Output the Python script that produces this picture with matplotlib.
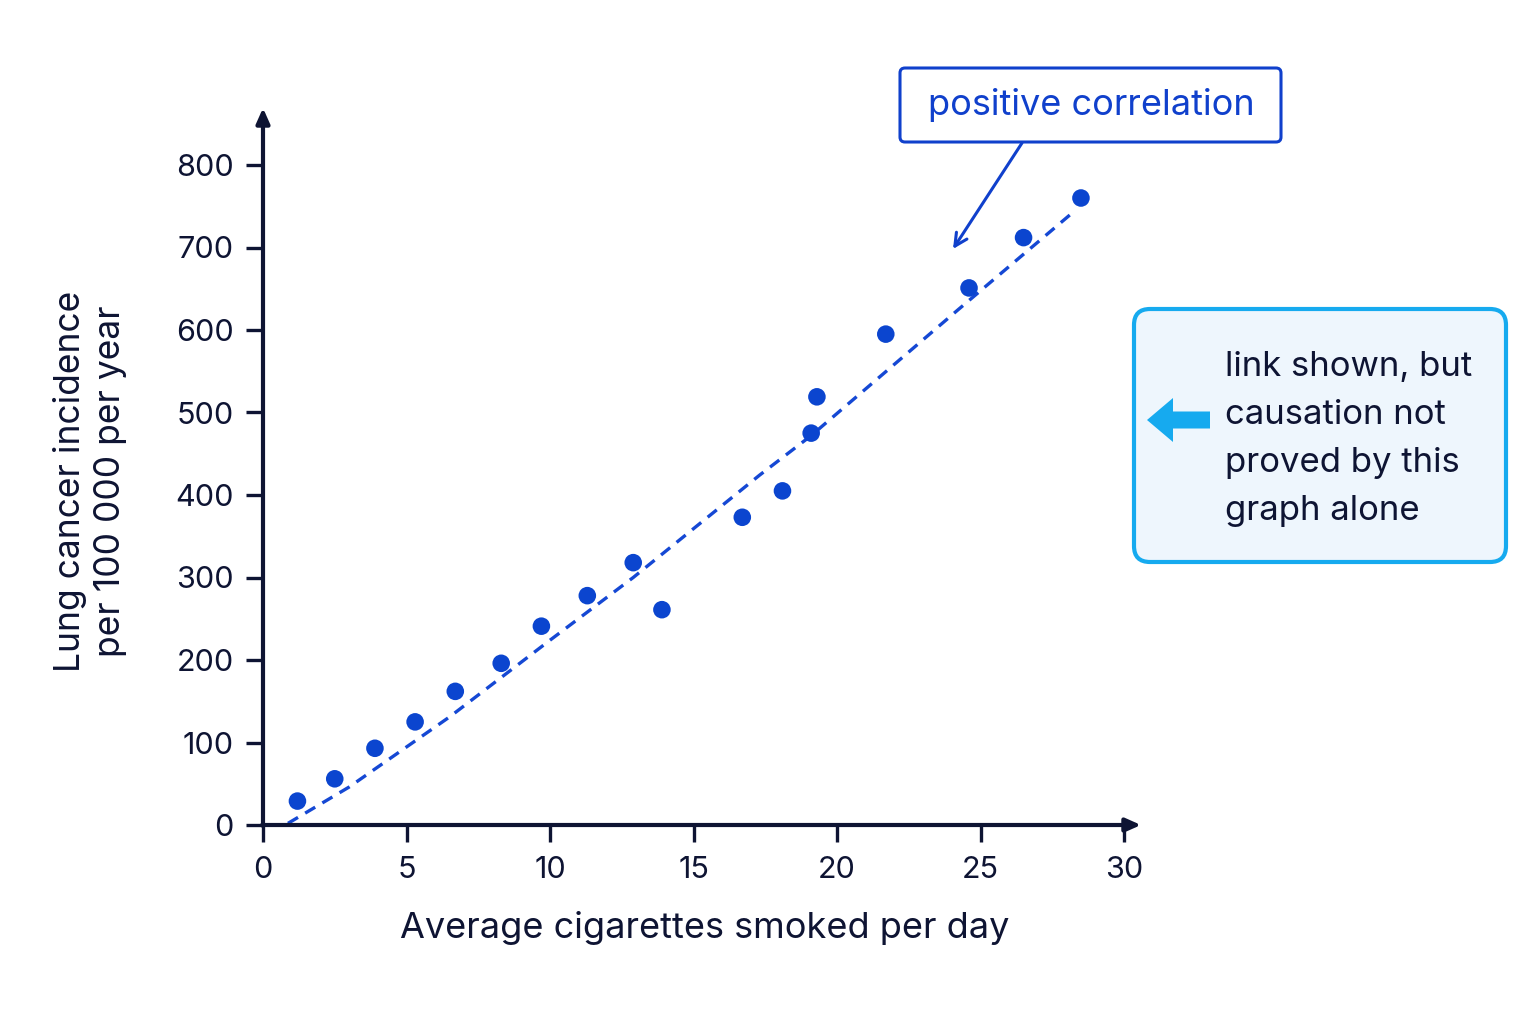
import matplotlib
matplotlib.use("Agg")
import matplotlib.pyplot as plt
from matplotlib.patches import FancyBboxPatch, FancyArrow

plt.rcParams['font.family'] = ['Inter', 'DejaVu Sans']

# ---- data ----
cigs = [1.2, 2.5, 3.9, 5.3, 6.7, 8.3, 9.7, 11.3, 12.9, 13.9, 16.7, 18.1, 19.1, 19.3, 21.7, 24.6, 26.5, 28.5]
incidence = [29, 56, 93, 125, 162, 196, 241, 278, 318, 261, 373, 405, 475, 519, 595, 651, 712, 760]
trend_x = [0.87, 3.0, 6.5, 10.0, 12.9, 17.3, 19.1, 24.2, 28.2]
trend_y = [2, 46, 131, 224, 300, 424, 472, 624, 742]
xticks = [0, 5, 10, 15, 20, 25, 30]
yticks = [0, 100, 200, 300, 400, 500, 600, 700, 800]

W, H = 1536, 1024
navy = '#0e1433'
blue = '#0b45cf'
cyan = '#16aaef'

fig = plt.figure(figsize=(W / 100, H / 100), dpi=100)
fig.patch.set_facecolor('white')

ax = fig.add_axes([263 / W, 1 - 825 / H, (1124 - 263) / W, (825 - 165) / H])
ax.set_xlim(0, 30)
ax.set_ylim(0, 800)
ax.patch.set_alpha(0)
for s in ax.spines.values():
    s.set_visible(False)
ax.set_xticks(xticks)
ax.set_yticks(yticks)
ax.tick_params(axis='both', colors=navy, labelcolor=navy, length=12, width=2.4, labelsize=22)
ax.tick_params(axis='x', pad=10)
ax.tick_params(axis='y', pad=9)

ax.plot(trend_x, trend_y, color='#1548d4', lw=2.4, dashes=(3.5, 2.5), zorder=2)
ax.scatter(cigs, incidence, s=160, color=blue, zorder=3, edgecolors='none')

ax.set_xlabel('Average cigarettes smoked per day', fontsize=26, color=navy, va='center')
ax.xaxis.set_label_coords((705 - 263) / 861, (825 - 928) / 660)
ax.set_ylabel('Lung cancer incidence\nper 100 000 per year', fontsize=25.5, color=navy,
              linespacing=1.25, va='center', ha='center')
ax.yaxis.set_label_coords((90 - 263) / 861, (825 - 481) / 660)

# overlay in pixel coordinates for axes arrows and callouts
ov = fig.add_axes([0, 0, 1, 1])
ov.set_xlim(0, W)
ov.set_ylim(H, 0)
ov.axis('off')
ov.patch.set_alpha(0)

# axis arrows
ov.annotate('', xy=(1141, 825), xytext=(262, 825),
            arrowprops=dict(arrowstyle='-|>,head_length=0.9,head_width=0.4', color=navy, lw=3,
                            shrinkA=0, shrinkB=0))
ov.annotate('', xy=(263, 108), xytext=(263, 826),
            arrowprops=dict(arrowstyle='-|>,head_length=0.9,head_width=0.4', color=navy, lw=3,
                            shrinkA=0, shrinkB=0))

# positive correlation box
box1 = FancyBboxPatch((900, 68), 381, 74, boxstyle='round,pad=0,rounding_size=5',
                      fc='white', ec='#1040cc', lw=2.2)
ov.add_patch(box1)
ov.text(1091, 105, 'positive correlation', fontsize=26, color='#1040cc', ha='center', va='center')
ov.annotate('', xy=(953, 249), xytext=(1022, 143),
            arrowprops=dict(arrowstyle='->,head_length=0.9,head_width=0.45', color='#1040cc', lw=2.2,
                            shrinkA=0, shrinkB=0))

# causation callout
box2 = FancyBboxPatch((1134, 309), 372, 253, boxstyle='round,pad=0,rounding_size=16',
                      fc='#eef6fd', ec=cyan, lw=3)
ov.add_patch(box2)
ov.add_patch(FancyArrow(1210, 420, -63, 0, width=17, head_width=44, head_length=26,
                        length_includes_head=True, color=cyan, lw=0))
lines = ['link shown, but', 'causation not', 'proved by this', 'graph alone']
for i, t in enumerate(lines):
    ov.text(1225, 367 + 48 * i, t, fontsize=25, color=navy, ha='left', va='center')

fig.savefig('out.png', dpi=100, facecolor='white')
